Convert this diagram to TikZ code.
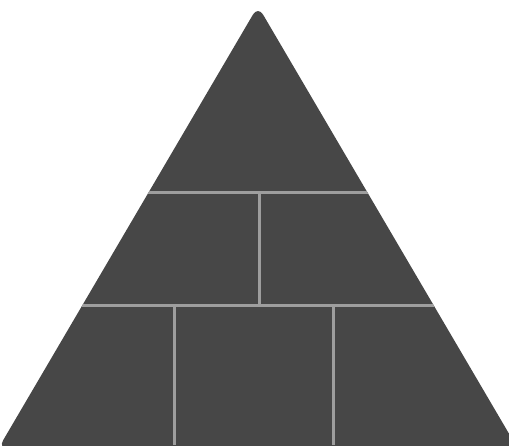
\documentclass[tikz,border=0pt]{standalone}
\begin{document}
\begin{tikzpicture}[x=1pt,y=-1pt,
  tri/.style={fill=black!72},
  seam/.style={draw=black!38,line width=3pt}]
\useasboundingbox (0,0) rectangle (509,445);
\clip (0,0) rectangle (509,445);
\coordinate (A) at (258,6);
\coordinate (L) at (-2,449);
\coordinate (R) at (518,449);
\fill[tri,rounded corners=10pt] (A) -- (R) -- (L) -- cycle;
\begin{scope}
\clip[rounded corners=10pt] (A) -- (R) -- (L) -- cycle;
\coordinate (h1l) at (0,192);
\coordinate (h1r) at (509,192);
\coordinate (h2l) at (0,305);
\coordinate (h2r) at (509,305);
\draw[seam] (h1l) -- (h1r);
\draw[seam] (h2l) -- (h2r);
\coordinate (v1t) at (259,192);
\coordinate (v1b) at (259,305);
\draw[seam] (v1t) -- (v1b);
\coordinate (v2t) at (174,305);
\coordinate (v2b) at (174,445);
\draw[seam] (v2t) -- (v2b);
\coordinate (v3t) at (333,305);
\coordinate (v3b) at (333,445);
\draw[seam] (v3t) -- (v3b);
\end{scope}
\end{tikzpicture}
\end{document}
